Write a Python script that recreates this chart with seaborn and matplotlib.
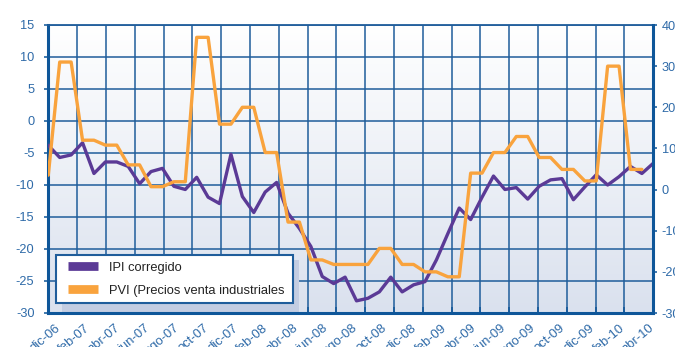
import numpy as np
import matplotlib
matplotlib.use("Agg")
import matplotlib.pyplot as plt
from matplotlib.colors import LinearSegmentedColormap
from matplotlib.lines import Line2D
from matplotlib.patches import Rectangle
import seaborn as sns

# ---- data ---------------------------------------------------------------
months = ["dic-06", "feb-07", "abr-07", "jun-07", "ago-07", "oct-07", "dic-07",
          "feb-08", "abr-08", "jun-08", "ago-08", "oct-08", "dic-08", "feb-09",
          "abr-09", "jun-09", "ago-09", "oct-09", "dic-09", "feb-10", "abr-10"]

ipi_corregido = [-3.8, -5.7, -5.3, -3.4, -8.2, -6.4, -6.4, -7.1, -9.8, -7.9,
                 -7.4, -10.2, -10.7, -8.8, -11.9, -12.9, -5.2, -11.8, -14.3, -11.1,
                 -9.6, -14.4, -16.8, -19.6, -24.3, -25.4, -24.4, -28.1, -27.7, -26.7,
                 -24.4, -26.7, -25.6, -25.1, -21.7, -17.6, -13.6, -15.4, -11.9, -8.6,
                 -10.7, -10.4, -12.2, -10.2, -9.2, -9.0, -12.3, -10.3, -8.4, -10.0,
                 -8.7, -7.1, -8.2, -6.6]

pvi = [3.5, 31.0, 31.0, 12.0, 12.0, 10.8, 10.8, 6.0, 6.0, 0.7,
       0.7, 1.9, 1.9, 37.0, 37.0, 15.9, 15.9, 20.0, 20.0, 9.0,
       9.0, -7.9, -7.9, -17.1, -17.1, -18.2, -18.2, -18.2, -18.2, -14.3,
       -14.3, -18.2, -18.2, -20.0, -20.0, -21.2, -21.2, 4.0, 4.0, 9.0,
       9.0, 12.9, 12.9, 7.8, 7.8, 4.9, 4.9, 2.1, 2.1, 30.0,
       30.0, 4.9, 4.9]

left_ticks = list(range(-30, 16, 5))
right_ticks = list(range(-30, 41, 10))

series_names = ["IPI corregido", "PVI (Precios venta industriales"]

# ---- style --------------------------------------------------------------
sns.set_style("white")
plt.rcParams["font.family"] = ["Liberation Sans", "DejaVu Sans"]
plt.rcParams["axes.unicode_minus"] = False

PURPLE = "#5b3a96"
ORANGE = "#f9a33d"
GRID = "#1f5d9b"
SPINE = "#0e5699"
TEXT = "#2e6aa8"

W, H = 675, 347
fig = plt.figure(figsize=(W / 100, H / 100), dpi=100)
L, R, T, B = 48.3, 653.3, 25.0, 313.0
ax = fig.add_axes([L / W, 1 - B / H, (R - L) / W, (B - T) / H])


def ax_frac(px, py):
    return (px - L) / (R - L), (B - py) / (B - T)


# soft vertical gradient behind the plot area
bg = LinearSegmentedColormap.from_list("bg", ["#ffffff", "#dae1ee"])
ax.imshow(np.linspace(0, 1, 256)[:, None], cmap=bg, aspect="auto",
          extent=[0, 1, 0, 1], transform=ax.transAxes, zorder=0)

x_ipi = np.arange(len(ipi_corregido))
x_pvi = np.arange(len(pvi))
n_span = len(ipi_corregido) - 1

sns.lineplot(x=x_ipi, y=ipi_corregido, ax=ax, color=PURPLE, linewidth=2.4, zorder=3)
ax.set_xlim(0, n_span)
ax.set_ylim(-30, 15)

ax2 = ax.twinx()
sns.lineplot(x=x_pvi, y=pvi, ax=ax2, color=ORANGE, linewidth=2.4, zorder=3)
ax2.set_ylim(-30, 40)
ax2.set_xlim(0, n_span)

for a in (ax, ax2):
    a.set_xlabel("")
    a.set_ylabel("")

# grid: horizontal at the left-axis ticks, vertical every 2.5 points
ax.set_axisbelow(True)
ax.set_yticks(left_ticks)
ax.set_yticklabels([str(v) for v in left_ticks])
ax.yaxis.grid(True, color=GRID, linewidth=1.1)
ax.set_xticks(np.linspace(0, n_span, 22), minor=True)
ax.xaxis.grid(True, which="minor", color=GRID, linewidth=1.1)
ax.xaxis.grid(False, which="major")

label_pos = 0.6 + 2.6 * np.arange(len(months))
ax.set_xticks(label_pos)
ax.set_xticklabels(months, rotation=40, ha="right", va="top",
                   rotation_mode="anchor")

ax.tick_params(axis="x", which="major", length=0, pad=6.5, labelsize=9.4,
               labelcolor=TEXT)
ax.tick_params(axis="x", which="minor", direction="in", length=4,
               color=SPINE, width=1.1, bottom=True)
ax.tick_params(axis="y", length=3, width=1.1, color=SPINE, pad=7,
               labelsize=9.2, labelcolor=TEXT, left=True)

ax2.set_yticks(right_ticks)
ax2.set_yticklabels([str(v) for v in right_ticks])
ax2.tick_params(axis="y", length=3, width=1.1, color=SPINE, pad=3,
                labelsize=9.2, labelcolor=TEXT, right=True)

for side in ("left", "bottom"):
    ax.spines[side].set_color(SPINE)
    ax.spines[side].set_linewidth(2.2)
ax.spines["top"].set_color(GRID)
ax.spines["top"].set_linewidth(1.3)
ax.spines["right"].set_visible(False)
for side in ("left", "bottom", "top"):
    ax2.spines[side].set_visible(False)
ax2.spines["right"].set_color(SPINE)
ax2.spines["right"].set_linewidth(2.2)

# legend: shadow, framed box, entries
sx0, sy0 = ax_frac(61.7, 311.7)
sx1, sy1 = ax_frac(299.0, 260.0)
ax.add_patch(Rectangle((sx0, sy0), sx1 - sx0, sy1 - sy0, transform=ax.transAxes,
                       facecolor="#c3cde2", edgecolor="none", zorder=1))
bx0, by0 = ax_frac(56.0, 303.3)
bx1, by1 = ax_frac(293.3, 255.0)
ax2.add_patch(Rectangle((bx0, by0), bx1 - bx0, by1 - by0, transform=ax2.transAxes,
                        facecolor="white", edgecolor=GRID, linewidth=1.5, zorder=4))

handles = [Line2D([0], [0], color=PURPLE, linewidth=6.3, solid_capstyle="butt"),
           Line2D([0], [0], color=ORANGE, linewidth=6.3, solid_capstyle="butt")]
fs = 9.3
lx, ly = ax_frac(68.0, 261.5)
leg = ax2.legend(handles, series_names, loc="upper left", bbox_to_anchor=(lx, ly),
                 frameon=False, borderpad=0, borderaxespad=0, fontsize=fs,
                 handlelength=2.32, handletextpad=0.82, labelspacing=0.85)
leg.set_zorder(5)
for t in leg.get_texts():
    t.set_color("#222222")

ax.set_xlim(0, n_span)
ax.set_ylim(-30, 15)
ax2.set_ylim(-30, 40)

fig.savefig("out.png", dpi=100)
